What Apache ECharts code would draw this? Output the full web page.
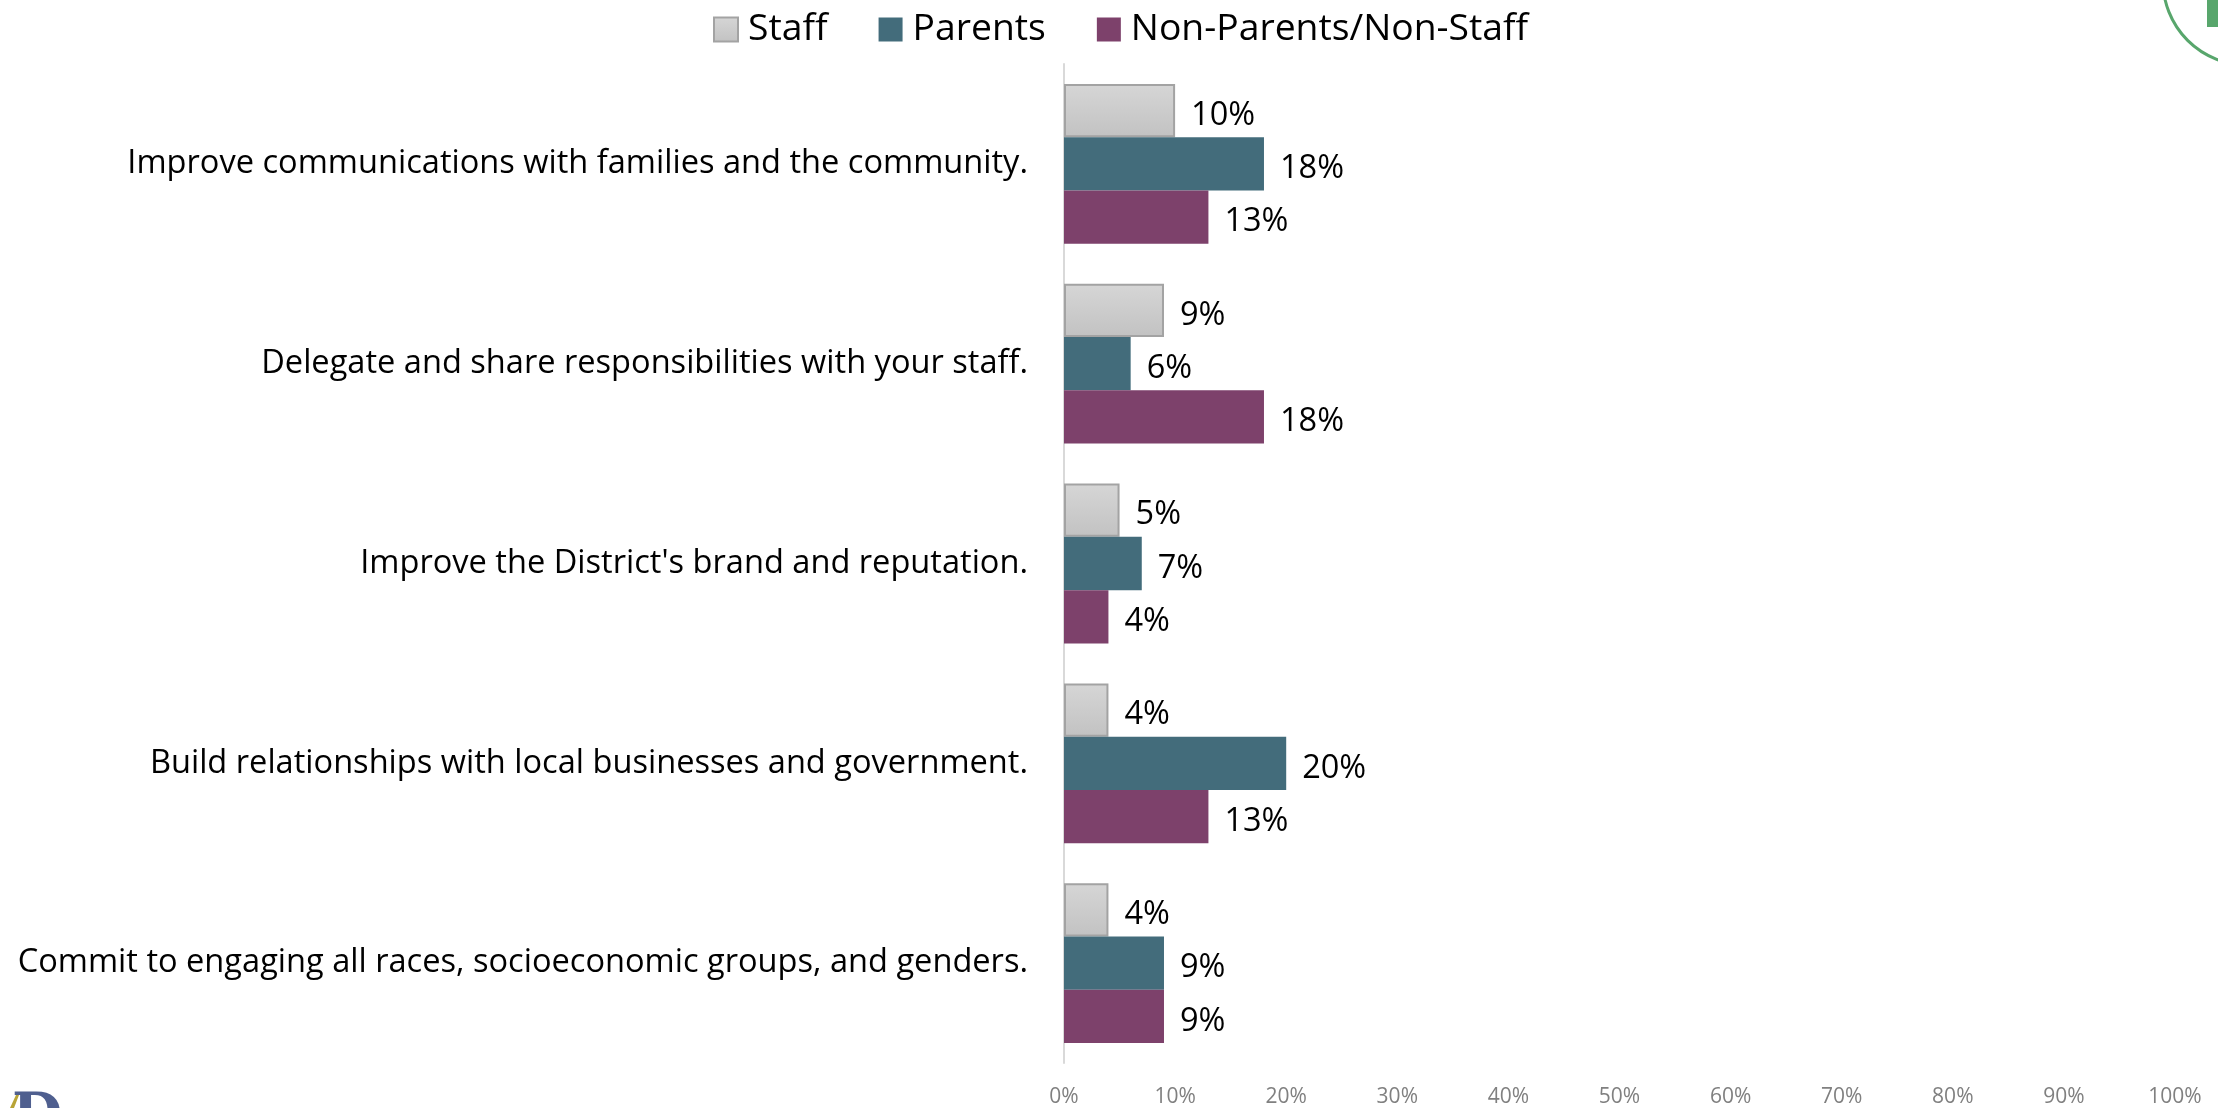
<!DOCTYPE html>
<html>
<head>
<meta charset="utf-8">
<script src="https://cdn.jsdelivr.net/npm/echarts@6/dist/echarts.min.js"></script>
<style>
html,body{margin:0;padding:0;background:#fff;}
#chart{width:2218px;height:1108px;}
</style>
</head>
<body>
<div id="chart"></div>
<script>
const categories = [
  "Improve communications with families and the community.",
  "Delegate and share responsibilities with your staff.",
  "Improve the District's brand and reputation.",
  "Build relationships with local businesses and government.",
  "Commit to engaging all races, socioeconomic groups, and genders."
];
const seriesNames = ["Staff", "Parents", "Non-Parents/Non-Staff"];
const staffValues = [10, 9, 5, 4, 4];
const parentsValues = [18, 6, 7, 20, 9];
const nonParentsValues = [13, 18, 4, 13, 9];
const xTicks = [0, 10, 20, 30, 40, 50, 60, 70, 80, 90, 100];

const FONT = '"Open Sans", "Noto Sans", sans-serif';
const chart = echarts.init(document.getElementById('chart'));

const labelCfg = {
  show: true, position: 'right', distance: 16, offset: [0, 5],
  formatter: p => p.value + '%',
  color: '#000', fontSize: 32.5, fontFamily: FONT
};

chart.setOption({
  animation: false,
  backgroundColor: '#fff',
  textStyle: { fontFamily: FONT },
  legend: {
    top: 11, left: 713, padding: 0,
    itemWidth: 24, itemHeight: 24, itemGap: 51,
    icon: 'rect',
    textStyle: { fontSize: 37.3, color: '#000', fontFamily: FONT, padding: [0, 0, 0, 5] },
    data: seriesNames
  },
  grid: { left: 1064, right: 43, top: 64, bottom: 42, containLabel: false },
  xAxis: {
    type: 'value', min: xTicks[0], max: xTicks[xTicks.length - 1], interval: 10,
    axisLine: { show: false }, axisTick: { show: false }, splitLine: { show: false },
    axisLabel: { formatter: '{value}%', color: '#808080', fontSize: 21, margin: 24, fontFamily: FONT }
  },
  yAxis: {
    type: 'category', data: categories, inverse: true,
    axisLine: { show: true, lineStyle: { color: '#d9d9d9', width: 2 } },
    axisTick: { show: false },
    axisLabel: { color: '#000', fontSize: 32.6, margin: 36, fontFamily: FONT, padding: [8, 0, 0, 0] }
  },
  series: [
    {
      name: seriesNames[0], type: 'bar', data: staffValues,
      barGap: '0%', barCategoryGap: '20%',
      itemStyle: {
        color: new echarts.graphic.LinearGradient(0, 0, 0, 1, [
          { offset: 0, color: '#d6d6d6' }, { offset: 1, color: '#c2c2c2' }
        ]),
        borderColor: '#a3a3a3', borderWidth: 2
      },
      label: labelCfg
    },
    {
      name: seriesNames[1], type: 'bar', data: parentsValues,
      barGap: '0%', barCategoryGap: '20%',
      itemStyle: { color: '#436c7b' },
      label: labelCfg
    },
    {
      name: seriesNames[2], type: 'bar', data: nonParentsValues,
      barGap: '0%', barCategoryGap: '20%',
      itemStyle: { color: '#7d416b' },
      label: labelCfg
    }
  ],
  graphic: [
    { type: 'circle', shape: { cx: 2247, cy: -19, r: 84 }, style: { fill: 'none', stroke: '#58a66c', lineWidth: 3 }, silent: true },
    { type: 'rect', shape: { x: 2207, y: 0, width: 11, height: 27 }, style: { fill: '#58a66c' }, silent: true },
    { type: 'text', left: 12, top: 1090, style: { text: 'D', font: 'bold 58px "DejaVu Serif"', fill: '#4f5f8f' }, silent: true },
    { type: 'polygon', shape: { points: [[10, 1108], [16, 1095], [19, 1095], [14, 1108]] }, style: { fill: '#b8a436' }, silent: true }
  ]
});
</script>
</body>
</html>
